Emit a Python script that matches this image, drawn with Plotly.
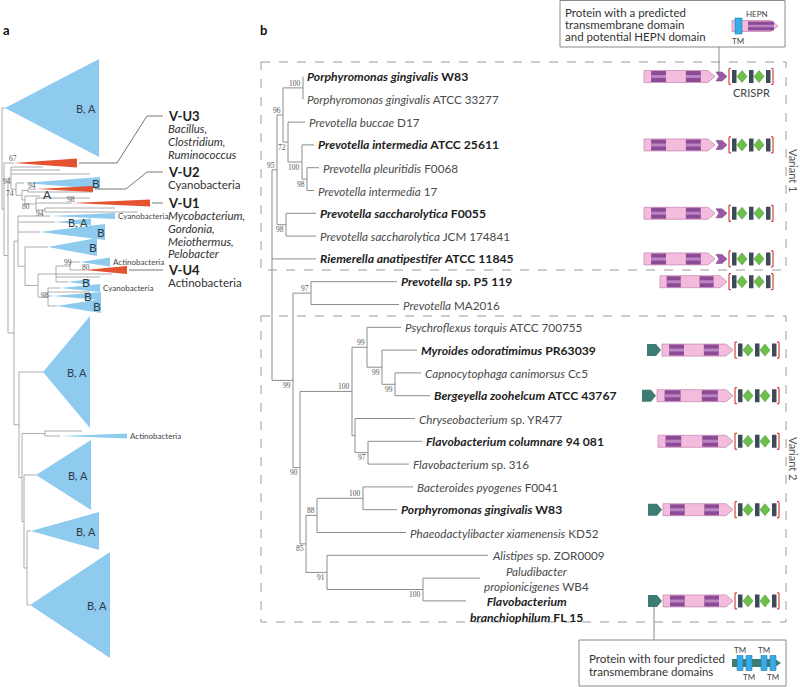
import plotly.graph_objects as go

# =====================================================================
# PANEL A : collapsed Cas13 family tree
# =====================================================================
a_node_id = ["R", "N1", "N2", "N3", "N4", "N5", "N6", "N7", "N8", "N9",
             "N20", "N21", "N22", "N23", "N24", "N25", "N26",
             "N40", "N41", "N42", "N43", "N44"]
a_node_parent = [None, "R", "N1", "N2", "N3", "N4", "N5", "N5", "N7", "N8",
                 "N2", "N20", "N21", "N22", "N23", "N24", "N23",
                 "N20", "N40", "N41", "N41", "N43"]
a_node_depth = [2, 4, 8, 11, 16, 22, 28, 25, 36, 45,
                14, 18, 25, 38, 56, 70, 48,
                19, 22, 45, 24, 27]

# terminal items (collapsed clades = triangles, single sequences = twigs)
a_leaf_parent = ["R", "N1", "N3", "N3", "N3", "N4", "N6", "N6", "N7", "N8", "N8",
                 "N9", "N9", "N21", "N21", "N21", "N22", "N25", "N25",
                 "N24", "N24", "N24", "N26", "N26", "N26", "N26", "N40", "N42", "N42",
                 "N43", "N44", "N44"]
a_leaf_kind = ["clade", "clade", "twig", "twig", "twig", "clade", "clade", "twig", "twig", "twig", "clade",
               "twig", "twig", "clade", "clade", "clade", "clade", "clade", "clade",
               "twig", "twig", "clade", "clade", "twig", "clade", "clade", "clade", "twig", "clade",
               "clade", "clade", "clade"]
a_leaf_start = [5, 14, None, None, None, 24, 36, None, None, None, 72,
                None, None, 50, 55, 40, 48, 80, 85,
                None, None, 68, 60, None, 52, 57, 43, None, 60,
                36, 31, 30]
a_leaf_pos = [108, 163, 167, 170, 174, 183, 189, 192, 196, 198, 203,
              208, 212, 216, 222, 232, 247, 262, 270,
              274, 277, 282, 288, 292, 296, 306, 372, 431, 436,
              475, 531, 605]
a_leaf_end = [99, 77, 43, 60, 90, 100, 93, 93, 40, 90, 150,
              115, 138, 115, 91, 105, 97, 110, 127,
              112, 100, 90, 100, 90, 101, 101, 90, 82, 127,
              91, 99, 110]
a_leaf_spread = [49, 4.5, 0, 0, 0, 6, 3, 0, 0, 0, 3.5,
                 0, 0, 3, 3.5, 8, 9, 4.5, 4,
                 0, 0, 3, 4, 0, 4, 7, 56, 0, 2.5,
                 35, 19, 53]
a_leaf_group = ["B", "V", "", "", "", "B", "V", "", "", "", "V",
                "", "", "B", "B", "B", "B", "B", "V",
                "", "", "B", "B", "", "B", "B", "B", "", "B",
                "B", "B", "B"]
a_leaf_label = ["B, A", "", "", "", "", "B", "", "", "A", "", "",
                "", "", "Cyanobacteria", "B, A", "B", "B", "Actinobacteria", "",
                "", "", "B", "Cyanobacteria", "", "B", "B", "B, A", "", "Actinobacteria",
                "B, A", "B, A", "B, A"]

a_boot_value = ["67", "94", "74", "94", "80", "94", "98", "99", "80", "98"]

vu_name = ["V-U3", "V-U2", "V-U1", "V-U4"]
vu_leaf = [1, 6, 10, 18]
vu_hosts = [["Bacillus,", "Clostridium,", "Ruminococcus"],
            ["Cyanobacteria"],
            ["Mycobacterium,", "Gordonia,", "Meiothermus,", "Pelobacter"],
            ["Actinobacteria"]]
vu_host_italic = [True, False, True, False]

# =====================================================================
# PANEL B : Cas13b tree with loci
# =====================================================================
b_leaf_taxon = ["Porphyromonas gingivalis", "Porphyromonas gingivalis", "Prevotella buccae",
                "Prevotella intermedia", "Prevotella pleuritidis", "Prevotella intermedia",
                "Prevotella saccharolytica", "Prevotella saccharolytica", "Riemerella anatipestifer",
                "Prevotella", "Prevotella", "Psychroflexus torquis", "Myroides odoratimimus",
                "Capnocytophaga canimorsus", "Bergeyella zoohelcum", "Chryseobacterium",
                "Flavobacterium columnare", "Flavobacterium", "Bacteroides pyogenes",
                "Porphyromonas gingivalis", "Phaeodactylibacter xiamenensis", "Alistipes",
                "Paludibacter|propionicigenes", "Flavobacterium|branchiophilum"]
b_leaf_strain = ["W83", "ATCC 33277", "D17", "ATCC 25611", "F0068", "17", "F0055", "JCM 174841",
                 "ATCC 11845", "sp. P5 119", "MA2016", "ATCC 700755", "PR63039", "Cc5",
                 "ATCC 43767", "sp. YR477", "94 081", "sp. 316", "F0041", "W83", "KD52",
                 "sp. ZOR0009", "WB4", "FL 15"]
b_leaf_bold = [1, 0, 0, 1, 0, 0, 1, 0, 1, 1, 0, 0, 1, 0, 1, 0, 1, 0, 0, 1, 0, 0, 0, 1]
b_leaf_parent = ["nA", "nA", "nD", "nC", "nB", "nB", "nF", "nF", "root", "n97", "n97", "n99a",
                 "n99b", "n99c", "n99c", "nK", "n97b", "n97b", "n100d", "n100d", "n88", "n91",
                 "n100e", "n100e"]
b_leaf_depth = [31, 31, 33, 42, 47, 42, 44, 44, 44, 125, 127, 129, 145, 149, 158, 143, 150, 137,
                141, 125, 134, 216, 208, 194]

b_node_id = ["root", "nG", "nE", "nA", "nD", "nC", "nB", "nF", "nV2", "n97", "n90", "n100c",
             "n99a", "n99b", "n99c", "nK", "n97b", "n85", "n88", "n100d", "n91", "n100e"]
b_node_parent = [None, "root", "nG", "nE", "nE", "nD", "nC", "nG", "root", "nV2", "nV2", "n90",
                 "n100c", "n99a", "n99b", "n100c", "nK", "n90", "n85", "n88", "n85", "n91"]
b_node_depth = [0, 5, 11, 31, 16, 30, 35, 14, 21, 39, 28, 80, 95, 110, 123, 83, 96, 34, 45, 91, 55, 151]
b_node_support = [None, 95, 96, 100, 72, 100, 98, 98, 99, 97, 90, 100, 99, 99, 99, None, 97, 85, 88,
                  100, 91, 100]
b_node_side = ["", "a", "a", "a", "b", "b", "b", "b", "b", "a", "b", "a", "a", "b", "b", "", "b",
               "b", "a", "a", "b", "b"]

# loci drawn next to the leaves (row index of the leaf)
g_row = [0, 3, 6, 8, 9, 12, 14, 16, 19, 23]
g_cas_start = [644, 644, 644, 644, 660, 662, 657, 658, 663, 663]
g_cas_end = [715, 715, 715, 715, 727, 733, 733, 733, 733, 733]
g_hepn = [1, 1, 1, 1, 0, 0, 0, 0, 0, 0]
g_tm4 = [0, 0, 0, 0, 0, 1, 1, 0, 1, 1]
g_array_start = [729, 729, 729, 729, 729, 735, 735, 735, 735, 735]

# =====================================================================
# styling / layout constants
# =====================================================================
FONT = "Lato"
C_TREE = "#a3a3a3"
C_BLUE = "#8ecbef"
C_RED = "#e4522f"
C_PINK = "#f4bcdc"
C_PINK_LINE = "#c68db5"
C_PURPLE = "#8d4b97"
C_STRIPE = "#b884c1"
C_TEAL = "#3e7c73"
C_REPEAT = "#3d4a58"
C_SPACER = "#6cbf4a"
C_BRACKET = "#d6433b"
C_TM = "#37ace6"
C_TEXT = "#333333"

B_X0 = 272          # x of panel-b root
B_Y0 = 76.5         # y of first leaf row
B_DY = 22.8         # row spacing

fig = go.Figure()
annotations = []
shapes = []


def add_text(x, y, text, size=11, color=C_TEXT, xanchor="left", yanchor="middle",
             angle=0, family=FONT):
    annotations.append(dict(x=x, y=y, text=text, showarrow=False, xanchor=xanchor,
                            yanchor=yanchor, textangle=angle, borderpad=0,
                            font=dict(family=family, size=size, color=color)))


def add_polys(polys, fill, line_color=None, width=0):
    xs, ys = [], []
    for p in polys:
        xs += [q[0] for q in p] + [p[0][0], None]
        ys += [q[1] for q in p] + [p[0][1], None]
    fig.add_trace(go.Scatter(x=xs, y=ys, mode="lines", fill="toself", fillcolor=fill,
                             line=dict(color=line_color or fill, width=width),
                             hoverinfo="skip", showlegend=False))


def add_segs(segs, color, width=1):
    xs, ys = [], []
    for (x0, y0), (x1, y1) in segs:
        xs += [x0, x1, None]
        ys += [y0, y1, None]
    fig.add_trace(go.Scatter(x=xs, y=ys, mode="lines", line=dict(color=color, width=width),
                             hoverinfo="skip", showlegend=False))


def tree_geometry(node_ids, parents, node_x, leaf_parent, leaf_attach_x, leaf_y):
    nx = dict(zip(node_ids, node_x))
    children = {n: [] for n in node_ids}
    for n, p in zip(node_ids, parents):
        if p is not None:
            children[p].append(("node", n))
    for i, p in enumerate(leaf_parent):
        children[p].append(("leaf", i))
    ny = {}

    def gy(kind, key):
        if kind == "leaf":
            return leaf_y[key]
        if key not in ny:
            ys = [gy(*c) for c in children[key]]
            ny[key] = (min(ys) + max(ys)) / 2
        return ny[key]

    segs = []
    for n in node_ids:
        ys = [gy(*c) for c in children[n]]
        segs.append(((nx[n], min(ys)), (nx[n], max(ys))))
        for c in children[n]:
            cx = leaf_attach_x[c[1]] if c[0] == "leaf" else nx[c[1]]
            segs.append(((nx[n], gy(*c)), (cx, gy(*c))))
    return nx, ny, segs


# =====================================================================
# draw panel a
# =====================================================================
a_attach = [s if k == "clade" else e for s, k, e in zip(a_leaf_start, a_leaf_kind, a_leaf_end)]
_, _, a_segs = tree_geometry(a_node_id, a_node_parent, a_node_depth,
                             a_leaf_parent, a_attach, a_leaf_pos)
add_segs(a_segs, C_TREE, 0.9)

for grp, col in (("B", C_BLUE), ("V", C_RED)):
    tris = []
    for i in range(len(a_leaf_pos)):
        if a_leaf_kind[i] == "clade" and a_leaf_group[i] == grp:
            y = a_leaf_pos[i]
            h = a_leaf_spread[i]
            tris.append([(a_leaf_start[i], y), (a_leaf_end[i], y - h), (a_leaf_end[i], y + h)])
    add_polys(tris, col)

prev_b_y = -100
for i, lab in enumerate(a_leaf_label):
    if not lab:
        continue
    y = a_leaf_pos[i]
    if lab in ("B", "A"):
        if a_leaf_kind[i] == "twig":
            add_text(a_leaf_end[i] + 2, y - 2, lab, size=12, color="#2e3a46")
        else:
            nudge = 0
            nxt = [a_leaf_pos[j] for j in range(i + 1, len(a_leaf_label)) if a_leaf_label[j] == "B"]
            if nxt and nxt[0] - y < 12:
                nudge = 9      # keep two stacked labels from colliding
            add_text(a_leaf_end[i] + 0.5 - nudge, y + 0.5, lab, size=12, color="#2e3a46",
                     xanchor="right")
    elif lab == "B, A":
        add_text(a_leaf_end[i] - 2, y, lab, size=11, color="#2e3a46", xanchor="right")
    else:
        add_text(a_leaf_end[i] + 2, y, lab, size=8, color="#444")

a_boot_xy = [(13, 158), (7, 181), (10, 193), (32, 185), (26, 206), (40, 213),
             (71, 199), (68, 262), (86, 267), (45, 295)]
for v, (x, y) in zip(a_boot_value, a_boot_xy):
    add_text(x, y, v, size=7.5, color="#555", xanchor="center", family="Liberation Serif")

# V-U labels with leader lines
vu_label_y = [116, 172, 203, 271]
vu_elbow_x = [117, 126, None, None]
VU_X = 167
leader = []
for k, li in enumerate(vu_leaf):
    y = a_leaf_pos[li]
    x0 = a_leaf_end[li] + 2
    ly = vu_label_y[k]
    if vu_elbow_x[k] is None:
        leader.append(((x0, y), (VU_X - 4, y)))
        ly = y
    else:
        ex = vu_elbow_x[k]
        leader += [((x0, y), (ex, y)), ((ex, y), (147, ly)), ((147, ly), (VU_X - 4, ly))]
    add_text(VU_X, ly, "<b>%s</b>" % vu_name[k], size=13, color="#222")
    for j, h in enumerate(vu_hosts[k]):
        t = "<i>%s</i>" % h if vu_host_italic[k] else h
        add_text(VU_X, ly + 12.7 * (j + 1), t, size=11.5, color="#333")
add_segs(leader, "#777", 1)

# =====================================================================
# draw panel b tree
# =====================================================================
b_leaf_y = [B_Y0 + i * B_DY for i in range(len(b_leaf_taxon))]
b_leaf_x = [B_X0 + d for d in b_leaf_depth]
b_nx, b_ny, b_segs = tree_geometry(b_node_id, b_node_parent, [B_X0 + d for d in b_node_depth],
                                   b_leaf_parent, b_leaf_x, b_leaf_y)
add_segs(b_segs, "#8c8c8c", 1)

for n, sup, side in zip(b_node_id, b_node_support, b_node_side):
    if sup is None:
        continue
    y = b_ny[n] + (-4.5 if side == "a" else 5)
    add_text(b_nx[n] - 1, y, str(sup), size=7.5, color="#555", xanchor="right",
             family="Liberation Serif")

for i, taxon in enumerate(b_leaf_taxon):
    lines = taxon.split("|")
    parts = ["<i>%s</i>" % l for l in lines]
    parts[-1] += " " + b_leaf_strain[i]
    if b_leaf_bold[i]:
        parts = ["<b>%s</b>" % p for p in parts]
    color = "#1e1e1e" if b_leaf_bold[i] else "#4a4a4a"
    size = 12.2 if b_leaf_bold[i] else 11.7
    txt = "<br>".join(parts)
    if len(lines) > 1 and b_leaf_bold[i]:
        add_text(b_leaf_x[i] + 3, b_leaf_y[i] - 8, txt, size=size, color=color, yanchor="top")
    else:
        add_text(b_leaf_x[i] + 3, b_leaf_y[i], txt, size=size, color=color)

# =====================================================================
# loci
# =====================================================================
pink, purple, stripe, teal, hepn, repeats, spacers, brackets = [], [], [], [], [], [], [], []
for k, r in enumerate(g_row):
    y = b_leaf_y[r]
    s, e = g_cas_start[k], g_cas_end[k]
    pink.append([(s, y - 6), (e - 7, y - 6), (e, y), (e - 7, y + 6), (s, y + 6)])
    L = e - s
    for f0, f1 in ((0.10, 0.31), (0.59, 0.80)):
        a, b = s + f0 * L, s + f1 * L
        purple.append([(a, y - 5.5), (b, y - 5.5), (b, y + 5.5), (a, y + 5.5)])
        stripe.append([(a, y - 1.5), (b, y - 1.5), (b, y + 1.5), (a, y + 1.5)])
    if g_hepn[k]:
        hepn.append([(e + 1, y - 4.5), (e + 7, y - 4.5), (e + 12, y), (e + 7, y + 4.5),
                     (e + 1, y + 4.5), (e + 4, y)])
    if g_tm4[k]:
        ts = s - 15
        teal.append([(ts, y - 6), (ts + 9, y - 6), (ts + 14, y), (ts + 9, y + 6), (ts, y + 6)])
    cs = g_array_start[k]
    for off in (3, 20, 37):
        repeats.append([(cs + off, y - 6.5), (cs + off + 4.5, y - 6.5),
                        (cs + off + 4.5, y + 6.5), (cs + off, y + 6.5)])
    for c in (cs + 13, cs + 30):
        spacers.append([(c - 5, y), (c, y - 6), (c + 5, y), (c, y + 6)])
    brackets += [((cs + 2, y - 8), (cs, y - 8)), ((cs, y - 8), (cs, y + 8)), ((cs, y + 8), (cs + 2, y + 8)),
                 ((cs + 42, y - 8), (cs + 44, y - 8)), ((cs + 44, y - 8), (cs + 44, y + 8)),
                 ((cs + 44, y + 8), (cs + 42, y + 8))]

add_polys(pink, C_PINK, C_PINK_LINE, 0.8)
add_polys(purple, C_PURPLE)
add_polys(stripe, C_STRIPE)
add_polys(hepn, "#9a5aa3", "#7d4688", 0.6)
add_polys(teal, C_TEAL)
add_polys(repeats, C_REPEAT)
add_polys(spacers, C_SPACER, "#4e9a36", 0.6)
add_segs(brackets, C_BRACKET, 1.2)

row0 = b_leaf_y[g_row[0]]
add_text(g_array_start[0] + 22, row0 + 16, "CRISPR", size=11, color="#444", xanchor="center")

# dashed variant boxes
for y0, y1 in ((62, 270), (316, 622)):
    shapes.append(dict(type="rect", xref="x", yref="y", x0=261, x1=786, y0=y0, y1=y1,
                       line=dict(color="#9a9a9a", width=1, dash="dash"), layer="below"))
add_text(794, 170, "Variant 1", size=11, color="#555", xanchor="center", angle=90)
add_text(794, 458, "Variant 2", size=11, color="#555", xanchor="center", angle=90)

# callout 1 (HEPN protein)
shapes.append(dict(type="rect", xref="x", yref="y", x0=560, x1=785, y0=0.5, y1=47,
                   line=dict(color="#8a8a8a", width=1), fillcolor="white", layer="below"))
hx = g_cas_end[0] + 4
add_segs([((hx, 47), (hx, row0 - 4.5))], "#8a8a8a", 1)
for j, t in enumerate(["Protein with a predicted", "transmembrane domain", "and potential HEPN domain"]):
    add_text(564, 12.5 + 11.8 * j, t, size=11.5, color="#333")
iy = 26
add_polys([[(732, iy - 5.5), (771, iy - 5.5), (778, iy), (771, iy + 5.5), (732, iy + 5.5)]],
          C_PINK, C_PINK_LINE, 0.8)
add_polys([[(748, iy - 4.5), (774, iy - 4.5), (774, iy + 4.5), (748, iy + 4.5)]], C_PURPLE)
add_polys([[(748, iy - 1.2), (774, iy - 1.2), (774, iy + 1.2), (748, iy + 1.2)]], C_STRIPE)
add_polys([[(735, iy - 8), (742, iy - 8), (742, iy + 8), (735, iy + 8)]], C_TM, "#1f7fb8", 0.6)
add_text(757, 14, "HEPN", size=8, color="#444", xanchor="center")
add_text(738, 41, "TM", size=8, color="#444", xanchor="center")

# callout 2 (four-TM protein)
shapes.append(dict(type="rect", xref="x", yref="y", x0=579, x1=786, y0=640, y1=686,
                   line=dict(color="#8a8a8a", width=1), fillcolor="white", layer="below"))
last = len(g_row) - 1
tx = g_cas_start[last] - 9
add_segs([((tx, b_leaf_y[g_row[last]] + 6), (tx, 640))], "#8a8a8a", 1)
for j, t in enumerate(["Protein with four predicted", "transmembrane domains"]):
    add_text(588, 658 + 13 * j, t, size=11.5, color="#333")
iy = 663
add_polys([[(732, iy - 4), (775, iy - 4), (781, iy), (775, iy + 4), (732, iy + 4)]], C_TEAL)
add_polys([[(x0, iy - 7.5), (x0 + 6, iy - 7.5), (x0 + 6, iy + 7.5), (x0, iy + 7.5)]
           for x0 in (737, 746, 761, 770)], C_TM, "#1f7fb8", 0.6)
for x, y in ((740, 650), (764, 650), (749, 677), (773, 677)):
    add_text(x, y, "TM", size=8, color="#444", xanchor="center")

# panel letters
add_text(2, 30, "<b>a</b>", size=13, color="#111")
add_text(259, 30, "<b>b</b>", size=13, color="#111")

fig.update_layout(
    width=800, height=687, margin=dict(l=0, r=0, t=0, b=0),
    paper_bgcolor="white", plot_bgcolor="white", showlegend=False,
    xaxis=dict(range=[0, 800], visible=False, fixedrange=True),
    yaxis=dict(range=[687, 0], visible=False, fixedrange=True),
    annotations=annotations, shapes=shapes,
)
fig.write_html("out.html", config={"displayModeBar": False},
               post_script="document.body.style.margin='0';document.body.style.overflow='hidden';")
